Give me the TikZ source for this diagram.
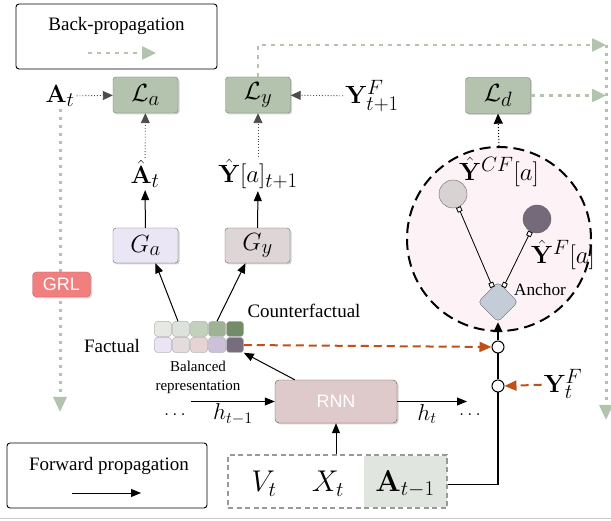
\RequirePackage{fix-cm}
\documentclass[tikz,border=0pt]{standalone}
\usepackage[no-math]{fontspec}
\setmainfont{Liberation Serif}
\newfontfamily\sansf{Liberation Sans}
\usetikzlibrary{arrows.meta,shadows,shapes.geometric,calc}
\definecolor{lossfill}{HTML}{B4C3AE}
\definecolor{lossdraw}{HTML}{6E7A69}
\definecolor{bpgreen}{HTML}{B3C4AE}
\definecolor{orng}{HTML}{C0501A}
\definecolor{gafill}{HTML}{EBE6F6}
\definecolor{gyfill}{HTML}{DED6D6}
\definecolor{rnnfill}{HTML}{DFCACB}
\definecolor{grlfill}{HTML}{F27F7F}
\definecolor{regfill}{HTML}{FDF2F6}
\definecolor{acellfill}{HTML}{E1E5DF}
\definecolor{cflight}{HTML}{D8D2D2}
\definecolor{fdark}{HTML}{756A7A}
\definecolor{diafill}{HTML}{C4CDD7}
\definecolor{ca}{HTML}{E6E8E3}
\definecolor{cb}{HTML}{DDE3DA}
\definecolor{cc}{HTML}{C2D1BC}
\definecolor{cd}{HTML}{9DB394}
\definecolor{ce}{HTML}{738C68}
\definecolor{da}{HTML}{EBE4F6}
\definecolor{db}{HTML}{E4DBDC}
\definecolor{dc}{HTML}{E6D4D4}
\definecolor{dd}{HTML}{CBC1D9}
\definecolor{de}{HTML}{776D7D}
\newcommand{\fsz}[1]{\fontsize{#1}{#1}\selectfont}
\begin{document}
\begin{tikzpicture}[x=1pt,y=-1pt,
  shad/.style={drop shadow={opacity=0.35,shadow xshift=1.5pt,shadow yshift=-1.5pt}},
  lossbox/.style={draw=lossdraw, fill=lossfill, rounded corners=3pt, minimum width=65pt, minimum height=36pt, inner sep=0pt, shad, font=\fsz{24.88}},
  genbox/.style={draw=gray!80!black, rounded corners=3pt, minimum width=65pt, minimum height=35pt, inner sep=0pt, shad, font=\fsz{24.88}},
  legbox/.style={draw=black, line width=0.9pt, rounded corners=3pt, inner sep=0pt},
  txt/.style={font=\fsz{19}, inner sep=1pt},
  smalltxt/.style={font=\fsz{15}, inner sep=1pt},
  lbl/.style={font=\fsz{24.88}, inner sep=2pt},
  biglbl/.style={font=\fsz{30}, inner sep=2pt},
  blk/.style={line width=1pt, -{Triangle[length=10pt,width=8pt]}},
  bp/.style={draw=bpgreen, line width=2.5pt, dash pattern=on 4pt off 5pt, -{Triangle[length=14pt,width=13pt,fill=bpgreen]}},
  bpv/.style={draw=bpgreen, line width=3pt, dash pattern=on 3pt off 5pt, -{Triangle[length=15pt,width=13pt,fill=bpgreen]}},
  dotarr/.style={draw=gray!60!black, dotted, line width=0.9pt, -{Triangle[length=10pt,width=9pt]}},
  dotblack/.style={draw=black, dotted, line width=1pt, -{Triangle[length=10pt,width=9pt]}},
  orarr/.style={draw=orng, line width=2pt, dash pattern=on 8pt off 5pt, -{Triangle[length=12pt,width=10pt,fill=orng]}},
  cell/.style={draw=gray!60, line width=0.5pt, rounded corners=3pt, minimum width=17pt, minimum height=15pt, inner sep=0pt},
  junction/.style={circle, draw=black, fill=white, line width=1pt, minimum size=12pt, inner sep=0pt},
  sqline/.style={line width=0.8pt, {Square[fill=white,length=5pt,width=5pt]}-{Square[fill=white,length=5pt,width=5pt]}}
]
\useasboundingbox (0,0) rectangle (611,521);

% legend boxes
\node[legbox, minimum width=201pt, minimum height=65pt] (bpbox) at (116.5,36.5) {};
\node[txt] (bptext) at (116.5,26) {Back-propagation};
\coordinate (bpa) at (88,53); \coordinate (bpb) at (156,53);
\draw[bp] (bpa) -- (bpb);

\node[legbox, minimum width=200pt, minimum height=65pt] (fpbox) at (107,475.5) {};
\node[txt] (fptext) at (109,466) {Forward propagation};
\coordinate (fpa) at (72,493); \coordinate (fpb) at (141,493);
\draw[blk] (fpa) -- (fpb);

% loss boxes
\node[lossbox] (La) at (145.5,95) {$\mathcal{L}_a$};
\node[lossbox] (Ly) at (258,95) {$\mathcal{L}_y$};
\node[lossbox] (Ld) at (498,95.5) {$\mathcal{L}_d$};
\node[lbl] (At) at (60,96) {$\mathbf{A}_t$};
\node[lbl] (Yt1) at (372,96) {$\mathbf{Y}^F_{t+1}$};
\draw[dotarr] (At) -- (La);
\draw[dotarr] (Yt1) -- (Ly);

% back-propagation paths
\coordinate (tr) at (606,45);
\coordinate (brt) at (606,420);
\coordinate (ldr) at (606,95.5);
\coordinate (lbot) at (60,412);
\draw[bp] (Ly.north) |- (tr);
\draw[bpv] (tr) -- (brt);
\draw[bp] (Ld) -- (ldr);
\draw[bpv] (At.south) -- (lbot);
\node[draw=grlfill!80!black, fill=grlfill, rounded corners=4pt, minimum width=58pt, minimum height=25pt, inner sep=0pt, shad, text=white, font=\sansf\fsz{18}] (grl) at (61.5,284.5) {GRL};

% generators
\node[genbox, fill=gafill] (Ga) at (145.5,245.5) {$G_a$};
\node[genbox, fill=gyfill] (Gy) at (257.5,245.5) {$G_y$};
\node[lbl] (Ahat) at (145,174) {$\hat{\mathbf{A}}_t$};
\node[lbl] (Yhat) at (258,174) {$\hat{\mathbf{Y}}[a]_{t+1}$};
\draw[blk] (Ga) -- (Ahat);
\draw[blk] (Gy) -- (Yhat);
\draw[dotarr] (Ahat) -- (La);
\draw[dotarr] (Yhat) -- (Ly);

% balanced representation grid
\node[cell, fill=ca] (g1) at (163,329) {};
\node[cell, fill=cb] (g2) at (181,329) {};
\node[cell, fill=cc] (g3) at (199,329) {};
\node[cell, fill=cd] (g4) at (217,329) {};
\node[cell, fill=ce] (g5) at (235,329) {};
\node[cell, fill=da] (h1) at (163,345) {};
\node[cell, fill=db] (h2) at (181,345) {};
\node[cell, fill=dc] (h3) at (199,345) {};
\node[cell, fill=dd] (h4) at (217,345) {};
\node[cell, fill=de] (h5) at (235,345) {};
\draw[blk] ([xshift=-3pt]g2.north) -- ([xshift=10pt]Ga.south);
\draw[blk] (g4.north) -- ([xshift=-12pt]Gy.south);
\node[txt] (fact) at (112,346) {Factual};
\node[txt] (cfact) at (304,311) {Counterfactual};
\node[smalltxt] (bal1) at (198,366) {Balanced};
\node[smalltxt] (bal2) at (198,387) {representation};

% RNN
\node[draw=gray!70!black, fill=rnnfill, rounded corners=4pt, minimum width=122pt, minimum height=43pt, inner sep=0pt, shad, text=white, font=\sansf\fsz{18}] (rnn) at (336,401.5) {RNN};
\draw[blk] ([xshift=20pt]rnn.north west) -- (h5.south east);
\coordinate (hin) at (191,401.5);
\coordinate (hout) at (467,401.5);
\draw[blk] (hin) -- (rnn.west);
\draw[blk] (rnn.east) -- (hout);
\node[lbl, font=\fsz{23}] (htm) at (233,414) {$h_{t-1}$};
\node[lbl, font=\fsz{23}] (ht) at (427,414) {$h_t$};
\node[lbl, font=\fsz{19}] (dl) at (175,415) {$\ldots$};
\node[lbl, font=\fsz{19}] (dr) at (470,415) {$\ldots$};

% inputs
\node[fill=acellfill, minimum width=83pt, minimum height=51pt, inner sep=0pt] (acel) at (405,481.5) {};
\node[draw=gray!80, line width=1.2pt, dash pattern=on 5pt off 3.5pt, minimum width=219pt, minimum height=53pt, inner sep=0pt] (inb) at (337.5,481.5) {};
\node[biglbl] (Vt) at (264,484) {$V_t$};
\node[biglbl] (Xt) at (328,484) {$X_t$};
\node[biglbl] (At1) at (405,484) {$\mathbf{A}_{t-1}$};
\draw[blk] (rnn.south |- inb.north) -- (rnn.south);

% region
\node[circle, draw=black, line width=2pt, dash pattern=on 11pt off 6pt, fill=regfill, minimum size=184pt, inner sep=0pt] (reg) at (499,239) {};
\draw[dotblack] (reg.north) -- (Ld.south);
\node[circle, draw=gray!80!black, fill=cflight, minimum size=28pt, inner sep=0pt] (cf) at (453,194) {};
\node[circle, draw=gray!80!black, fill=fdark, minimum size=28pt, inner sep=0pt] (fd) at (537,219) {};
\node[diamond, aspect=1, draw=gray!80!black, fill=diafill, rounded corners=4pt, minimum width=40pt, minimum height=40pt, inner sep=0pt] (anc) at (498,302) {};
\draw[sqline] (cf.-68) -- (anc.110);
\draw[sqline] (fd.-117) -- (anc.70);
\node[lbl] (YCF) at (499,172) {$\hat{\mathbf{Y}}^{CF}[a]$};
\node[lbl] (YF) at (563,255) {$\hat{\mathbf{Y}}^{F}[a]$};
\node[font=\fsz{17.28}, inner sep=1pt] (anct) at (540,290) {Anchor};

% junctions
\node[junction] (c1) at (498,347) {};
\node[junction] (c2) at (498,386) {};
\draw[line width=1.8pt] ([yshift=-3pt]inb.east) -| (c2.south);
\draw[line width=1.8pt] (c2.north) -- (c1.south);
\draw[line width=1.8pt, -{Triangle[length=10pt,width=9pt]}] (c1.north) -- (anc.south);
\node[lbl] (YFt) at (563,384) {$\mathbf{Y}^F_t$};
\draw[orarr] (h5.east) -- (c1.west);
\draw[orarr] (YFt) -- (c2.east);

% bottom rule
\coordinate (rl) at (0,518.5); \coordinate (rr) at (611,518.5);
\draw[gray!45, line width=1pt] (rl) -- (rr);
\end{tikzpicture}
\end{document}
